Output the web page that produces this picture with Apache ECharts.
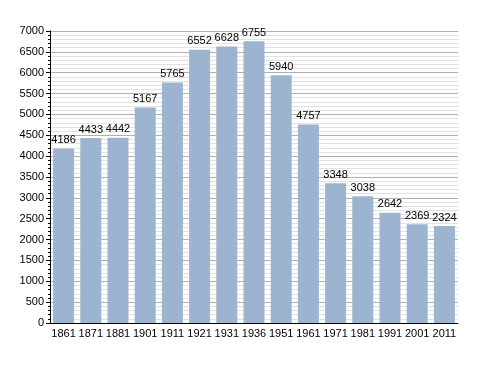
<!DOCTYPE html>
<html><head><meta charset="utf-8">
<script src="https://cdn.jsdelivr.net/npm/echarts@6/dist/echarts.min.js"></script>
<style>html,body{margin:0;padding:0;background:#fff}#c{width:488px;height:373px}</style>
</head><body><div id="c"></div>
<script>
var categories = ["1861","1871","1881","1901","1911","1921","1931","1936","1951","1961","1971","1981","1991","2001","2011"];
var population = [4186,4433,4442,5167,5765,6552,6628,6755,5940,4757,3348,3038,2642,2369,2324];
var chart = echarts.init(document.getElementById('c'), null, {renderer:'canvas'});
chart.setOption({
  animation:false,
  grid:{left:50,right:30,top:31,bottom:50,containLabel:false},
  xAxis:{type:'category',data:categories,
    axisLine:{lineStyle:{color:'#000',width:1}},
    axisTick:{show:false},
    axisLabel:{color:'#000',fontFamily:'Liberation Sans, Arial',fontSize:11,margin:5,interval:0}},
  yAxis:{type:'value',min:0,max:7000,interval:500,
    axisLine:{show:true,lineStyle:{color:'#000',width:1}},
    axisTick:{show:true,length:4,lineStyle:{color:'#000'}},
    minorTick:{show:true,splitNumber:5,length:2,lineStyle:{color:'#000'}},
    splitLine:{lineStyle:{color:'#b0b0b0',width:1}},
    minorSplitLine:{show:true,lineStyle:{color:'#e2e2e2',width:1}},
    axisLabel:{color:'#000',fontFamily:'Liberation Sans, Arial',fontSize:11,margin:6,formatter:function(v){return String(v);}}},
  series:[{type:'bar',data:population,barWidth:21,
    itemStyle:{color:'#9cb4cf'},
    label:{show:true,position:'top',distance:3,color:'#000',fontFamily:'Liberation Sans, Arial',fontSize:11}}]
});
</script></body></html>
